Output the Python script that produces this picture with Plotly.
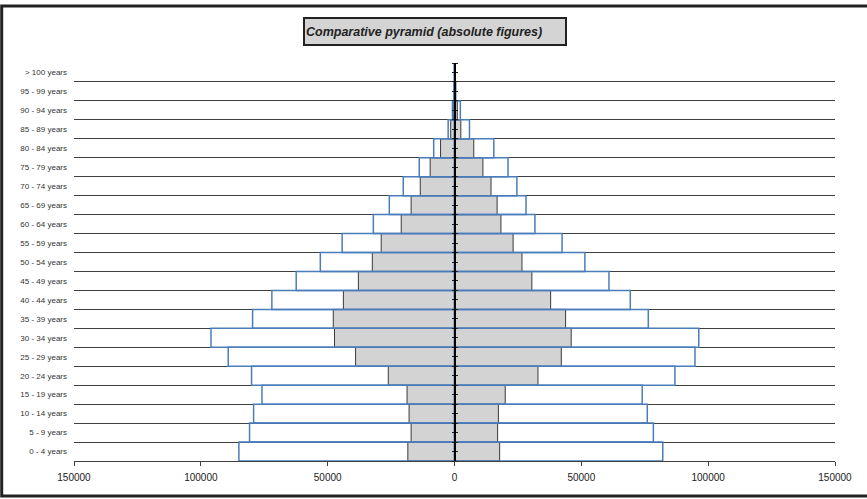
import plotly.graph_objects as go

categories = ["0 - 4 years", "5 - 9 years", "10 - 14 years", "15 - 19 years",
              "20 - 24 years", "25 - 29 years", "30 - 34 years", "35 - 39 years",
              "40 - 44 years", "45 - 49 years", "50 - 54 years", "55 - 59 years",
              "60 - 64 years", "65 - 69 years", "70 - 74 years", "75 - 79 years",
              "80 - 84 years", "85 - 89 years", "90 - 94 years", "95 - 99 years",
              "> 100 years"]

# grey (filled) population, left and right halves
grey_left = [18400, 17100, 17900, 18700, 26100, 39000, 47300, 47800, 43800, 37900,
             32400, 28900, 21000, 17100, 13500, 9600, 5500, 1500, 500, 150, 30]
grey_right = [17800, 17000, 17300, 20000, 32900, 42100, 46000, 43800, 37900, 30500,
              26600, 23100, 18300, 16800, 14400, 11200, 7600, 2500, 1100, 300, 50]

# outlined (blue) population, left and right halves
blue_left = [85000, 80800, 79200, 75900, 80000, 89200, 96000, 79600, 72000, 62400,
             52900, 44300, 32000, 25700, 20200, 13900, 8200, 2500, 800, 200, 40]
blue_right = [82100, 78400, 76000, 74000, 86900, 94800, 96300, 76400, 69300, 60900,
              51400, 42400, 31700, 28200, 24600, 21100, 15500, 5900, 2300, 500, 80]

x_ticks = [-150000, -100000, -50000, 0, 50000, 100000, 150000]
x_tick_text = ["150000", "100000", "50000", "0", "50000", "100000", "150000"]

title_text = "Comparative pyramid (absolute figures)"

GREY_FILL = "#d3d3d3"
GREY_LINE = "#3a3a3a"
BLUE = "#4a7ebb"
FONT = "Liberation Sans, Arial, sans-serif"

fig = go.Figure()

fig.add_trace(go.Bar(y=categories, x=[-v for v in grey_left], orientation="h",
                     marker=dict(color=GREY_FILL, line=dict(color=GREY_LINE, width=1)),
                     showlegend=False, hoverinfo="skip"))
fig.add_trace(go.Bar(y=categories, x=grey_right, orientation="h",
                     marker=dict(color=GREY_FILL, line=dict(color=GREY_LINE, width=1)),
                     showlegend=False, hoverinfo="skip"))
fig.add_trace(go.Bar(y=categories, x=[-v for v in blue_left], orientation="h",
                     marker=dict(color="rgba(0,0,0,0)", line=dict(color=BLUE, width=1.5)),
                     showlegend=False, hoverinfo="skip"))
fig.add_trace(go.Bar(y=categories, x=blue_right, orientation="h",
                     marker=dict(color="rgba(0,0,0,0)", line=dict(color=BLUE, width=1.5)),
                     showlegend=False, hoverinfo="skip"))

# invisible helper traces so the central axes (with their little ticks) are drawn
fig.add_trace(go.Scatter(x=[0], y=[0], yaxis="y2", mode="markers",
                         marker=dict(opacity=0), showlegend=False, hoverinfo="skip"))
fig.add_trace(go.Scatter(x=[0], y=[0], yaxis="y3", mode="markers",
                         marker=dict(opacity=0), showlegend=False, hoverinfo="skip"))

n = len(categories)
half_ticks = [i * 0.5 - 0.5 for i in range(2 * n + 1)]

fig.update_layout(
    width=867, height=499, autosize=False,
    margin=dict(l=74, r=32, t=63, b=38),
    paper_bgcolor="white", plot_bgcolor="white",
    barmode="overlay", bargap=0,
    font=dict(family=FONT, color="#222"),
    xaxis=dict(range=[-150000, 150000], tickvals=x_ticks, ticktext=x_tick_text,
               showgrid=False, zeroline=False, showline=True, linecolor="#404040",
               linewidth=1, ticks="outside", ticklen=4, tickcolor="#404040",
               ticklabelstandoff=3,
               tickfont=dict(size=10, color="#222", family=FONT), fixedrange=True),
    yaxis=dict(type="category", categoryorder="array", categoryarray=categories,
               range=[-0.5, n - 0.5], tickson="boundaries", ticks="",
               showgrid=True, gridcolor="#404040", gridwidth=1,
               showline=False, zeroline=False, ticklabelstandoff=6,
               tickfont=dict(size=8, color="#333", family=FONT), fixedrange=True),
    yaxis2=dict(overlaying="y", anchor="free", position=0.5, range=[-0.5, n - 0.5],
                tickvals=half_ticks, showticklabels=False, ticks="outside", ticklen=2,
                tickcolor="#222", tickwidth=1, showline=True, linecolor="#000",
                linewidth=2, showgrid=False, zeroline=False, fixedrange=True,
                layer="above traces"),
    yaxis3=dict(overlaying="y", anchor="free", position=0.5, side="right",
                range=[-0.5, n - 0.5], tickvals=half_ticks, showticklabels=False,
                ticks="outside", ticklen=2, tickcolor="#222", tickwidth=1,
                showline=False, showgrid=False, zeroline=False, fixedrange=True,
                layer="above traces"),
)

# outer frame (left, top and bottom edges; right edge runs off the page)
fig.add_shape(type="rect", xref="paper", yref="paper",
              x0=-0.095, x1=1.08, y0=-0.088, y1=1.143,
              line=dict(color="#222", width=3), fillcolor="rgba(0,0,0,0)", layer="above")

# title box
fig.add_annotation(xref="paper", yref="paper", x=0.301, y=1.080,
                   xanchor="left", yanchor="middle",
                   text="<b><i>" + title_text + "</i></b>", showarrow=False,
                   align="left", width=258, height=23,
                   bgcolor="#d4d4d4", bordercolor="#222", borderwidth=2, borderpad=1,
                   font=dict(family=FONT, size=12.5, color="#222"))

fig.write_html("out.html", config={"displayModeBar": False, "staticPlot": True},
               post_script="document.body.style.margin='0';document.body.style.padding='0';")
